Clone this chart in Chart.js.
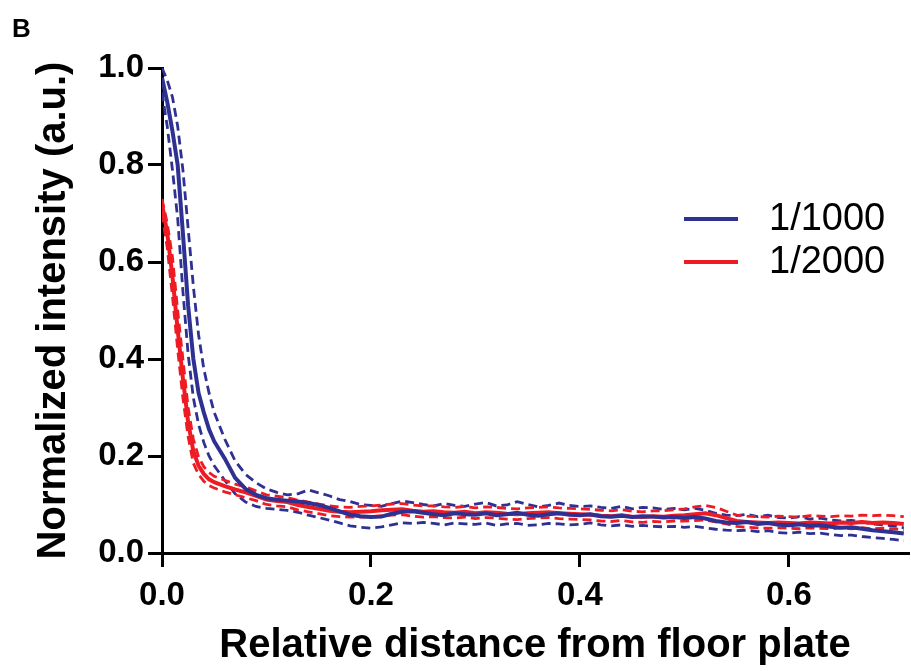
<!DOCTYPE html>
<html>
<head>
<meta charset="utf-8">
<script src="https://cdn.jsdelivr.net/npm/chart.js@4.4.1/dist/chart.umd.min.js"></script>
<style>
  html, body { margin: 0; padding: 0; background: #fff; }
  #wrap { position: relative; width: 911px; height: 671px; }
  canvas { display: block; }
</style>
</head>
<body>
<div id="wrap"><canvas id="c" width="911" height="671"></canvas></div>
<script>
// ---- data ----
const distance = [
  0, 0.005, 0.01, 0.015, 0.02, 0.025, 0.03, 0.035, 0.04, 0.045, 0.05,
  0.06, 0.07, 0.08, 0.09, 0.10, 0.11, 0.12, 0.13, 0.14, 0.15,
  0.16, 0.17, 0.18, 0.19, 0.20, 0.21, 0.22, 0.23, 0.24, 0.25,
  0.26, 0.27, 0.28, 0.29, 0.30, 0.31, 0.32, 0.33, 0.34, 0.35,
  0.36, 0.37, 0.38, 0.39, 0.40, 0.41, 0.42, 0.43, 0.44, 0.45,
  0.46, 0.47, 0.48, 0.49, 0.50, 0.51, 0.52, 0.53, 0.54, 0.55,
  0.56, 0.57, 0.58, 0.59, 0.60, 0.61, 0.62, 0.63, 0.64, 0.65,
  0.66, 0.67, 0.68, 0.69, 0.70, 0.71
];
const mean1000 = [
  0.98, 0.93, 0.87, 0.80, 0.66, 0.51, 0.40, 0.33, 0.29, 0.255, 0.23,
  0.195, 0.155, 0.132, 0.12, 0.113, 0.11, 0.108, 0.106, 0.103, 0.099,
  0.093, 0.086, 0.079, 0.076, 0.074, 0.075, 0.081, 0.085, 0.086, 0.083,
  0.080, 0.078, 0.082, 0.080, 0.079, 0.082, 0.078, 0.080, 0.083, 0.079,
  0.077, 0.080, 0.082, 0.079, 0.078, 0.080, 0.076, 0.075, 0.077, 0.074,
  0.076, 0.075, 0.073, 0.074, 0.072, 0.074, 0.071, 0.066, 0.063, 0.062,
  0.064, 0.060, 0.062, 0.058, 0.057, 0.059, 0.056, 0.057, 0.054, 0.052,
  0.053, 0.050, 0.047, 0.045, 0.043, 0.040
];
const upper1000 = [
  1.00, 0.975, 0.94, 0.88, 0.79, 0.67, 0.55, 0.45, 0.38, 0.33, 0.29,
  0.235, 0.19, 0.162, 0.145, 0.132, 0.125, 0.12, 0.122, 0.13, 0.124,
  0.118, 0.11, 0.106, 0.10, 0.098, 0.096, 0.102, 0.107, 0.104, 0.100,
  0.097, 0.102, 0.098, 0.096, 0.101, 0.104, 0.097, 0.099, 0.106, 0.100,
  0.095, 0.098, 0.103, 0.098, 0.096, 0.097, 0.094, 0.092, 0.096, 0.091,
  0.094, 0.093, 0.090, 0.092, 0.089, 0.092, 0.088, 0.082, 0.078, 0.077,
  0.080, 0.075, 0.078, 0.073, 0.072, 0.075, 0.070, 0.072, 0.068, 0.066,
  0.067, 0.064, 0.060, 0.058, 0.056, 0.052
];
const lower1000 = [
  0.95, 0.88, 0.79, 0.69, 0.54, 0.41, 0.32, 0.265, 0.228, 0.20, 0.18,
  0.15, 0.122, 0.105, 0.096, 0.092, 0.09, 0.088, 0.084, 0.078, 0.073,
  0.068, 0.062, 0.056, 0.053, 0.051, 0.054, 0.058, 0.062, 0.061, 0.063,
  0.061, 0.058, 0.062, 0.060, 0.059, 0.062, 0.057, 0.060, 0.061, 0.057,
  0.058, 0.061, 0.060, 0.058, 0.059, 0.062, 0.058, 0.056, 0.058, 0.055,
  0.057, 0.055, 0.054, 0.055, 0.053, 0.055, 0.052, 0.049, 0.047, 0.046,
  0.047, 0.044, 0.046, 0.042, 0.041, 0.043, 0.040, 0.041, 0.038, 0.036,
  0.037, 0.034, 0.032, 0.030, 0.028, 0.025
];
const mean2000 = [
  0.72, 0.66, 0.57, 0.46, 0.36, 0.27, 0.21, 0.18, 0.163, 0.152, 0.146,
  0.138, 0.131, 0.125, 0.118, 0.11, 0.107, 0.105, 0.099, 0.095, 0.091,
  0.087, 0.085, 0.084, 0.085, 0.086, 0.088, 0.089, 0.090, 0.087, 0.085,
  0.086, 0.084, 0.083, 0.085, 0.082, 0.084, 0.083, 0.081, 0.080, 0.082,
  0.083, 0.084, 0.082, 0.081, 0.080, 0.079, 0.077, 0.076, 0.078, 0.075,
  0.074, 0.076, 0.075, 0.077, 0.078, 0.080, 0.082, 0.078, 0.072, 0.066,
  0.064, 0.063, 0.062, 0.063, 0.062, 0.061, 0.063, 0.062, 0.061, 0.063,
  0.062, 0.064, 0.062, 0.063, 0.062, 0.060
];
const upper2000 = [
  0.73, 0.68, 0.61, 0.50, 0.40, 0.30, 0.235, 0.198, 0.178, 0.166, 0.158,
  0.150, 0.142, 0.136, 0.128, 0.12, 0.117, 0.114, 0.109, 0.105, 0.101,
  0.097, 0.095, 0.094, 0.096, 0.097, 0.099, 0.101, 0.102, 0.099, 0.097,
  0.097, 0.095, 0.094, 0.096, 0.093, 0.095, 0.094, 0.092, 0.091, 0.093,
  0.094, 0.095, 0.093, 0.092, 0.091, 0.090, 0.088, 0.087, 0.089, 0.086,
  0.085, 0.087, 0.087, 0.089, 0.091, 0.095, 0.098, 0.094, 0.086, 0.078,
  0.076, 0.075, 0.074, 0.076, 0.075, 0.074, 0.077, 0.076, 0.075, 0.077,
  0.076, 0.078, 0.077, 0.078, 0.077, 0.075
];
const lower2000 = [
  0.70, 0.63, 0.53, 0.42, 0.32, 0.24, 0.185, 0.162, 0.148, 0.139, 0.134,
  0.126, 0.12, 0.114, 0.108, 0.10, 0.097, 0.095, 0.089, 0.085, 0.081,
  0.077, 0.075, 0.074, 0.074, 0.075, 0.077, 0.078, 0.079, 0.076, 0.074,
  0.075, 0.073, 0.072, 0.074, 0.071, 0.073, 0.072, 0.070, 0.069, 0.071,
  0.072, 0.073, 0.071, 0.070, 0.069, 0.068, 0.066, 0.065, 0.067, 0.064,
  0.063, 0.065, 0.064, 0.066, 0.066, 0.067, 0.068, 0.064, 0.060, 0.055,
  0.053, 0.052, 0.051, 0.052, 0.051, 0.050, 0.052, 0.051, 0.050, 0.052,
  0.050, 0.052, 0.050, 0.051, 0.050, 0.048
];
const seriesLabels = ['1/1000', '1/2000'];
const xTicks = [0, 0.2, 0.4, 0.6];
const yTicks = [0, 0.2, 0.4, 0.6, 0.8, 1.0];
const xTitle = 'Relative distance from floor plate';
const yTitle = 'Normalized intensity (a.u.)';
const panelLetter = 'B';

// ---- styling ----
const BLUE = 'rgb(46,49,146)';
const RED = 'rgb(237,28,36)';
const FONT = 'Arial, "Liberation Sans", sans-serif';

function pts(ys) { return distance.map((x, i) => ({ x: x, y: ys[i] })); }

function line(data, color, dashed, order) {
  return {
    data: pts(data),
    borderColor: color,
    backgroundColor: color,
    borderWidth: dashed ? 2.8 : 4,
    borderDash: dashed ? [9, 5] : [],
    pointRadius: 0,
    tension: 0,
    fill: false,
    order: order
  };
}

const legendPlugin = {
  id: 'customLegend',
  afterDraw(chart) {
    const ctx = chart.ctx;
    ctx.save();
    // panel letter
    ctx.fillStyle = '#000';
    ctx.font = 'bold 26px ' + FONT;
    ctx.textBaseline = 'alphabetic';
    ctx.textAlign = 'left';
    ctx.fillText(panelLetter, 12, 37);
    // legend entries
    const items = [[seriesLabels[0], BLUE, 219], [seriesLabels[1], RED, 262]];
    items.forEach(([label, color, y]) => {
      ctx.strokeStyle = color;
      ctx.lineWidth = 4;
      ctx.beginPath();
      ctx.moveTo(684, y);
      ctx.lineTo(738, y);
      ctx.stroke();
      ctx.fillStyle = '#000';
      ctx.font = '38px ' + FONT;
      ctx.textBaseline = 'middle';
      ctx.fillText(label, 769, y + 1);
    });
    ctx.restore();
  }
};

new Chart(document.getElementById('c'), {
  type: 'line',
  data: {
    datasets: [
      line(mean1000, BLUE, false, 0),
      line(mean2000, RED, false, 1),
      line(upper2000, RED, true, 2),
      line(lower2000, RED, true, 2),
      line(upper1000, BLUE, true, 3),
      line(lower1000, BLUE, true, 3)
    ]
  },
  options: {
    responsive: false,
    animation: false,
    devicePixelRatio: 1,
    layout: { padding: { top: 68, right: 3, left: 0, bottom: 0 } },
    plugins: { legend: { display: false }, tooltip: { enabled: false } },
    scales: {
      x: {
        type: 'linear',
        min: 0,
        max: 0.714,
        position: 'bottom',
        afterBuildTicks: s => { s.ticks = xTicks.map(v => ({ value: v })); },
        afterFit: s => { s.height = 118; },
        grid: { drawOnChartArea: false, drawTicks: true, tickLength: 14, lineWidth: 3, tickWidth: 3, tickColor: '#000', color: '#000' },
        border: { display: true, color: '#000', width: 3 },
        ticks: {
          color: '#000',
          font: { family: FONT, size: 33, weight: 'bold' },
          padding: 9,
          maxRotation: 0,
          autoSkip: false,
          callback: v => Number(v).toFixed(1)
        },
        title: {
          display: true,
          text: xTitle,
          color: '#000',
          font: { family: FONT, size: 40, weight: 'bold' },
          padding: { top: 0, bottom: 1 }
        }
      },
      y: {
        type: 'linear',
        min: 0,
        max: 1.0,
        afterBuildTicks: s => { s.ticks = yTicks.map(v => ({ value: v })); },
        afterFit: s => { s.width = 162; },
        grid: { drawOnChartArea: false, drawTicks: true, tickLength: 14, lineWidth: 3, tickWidth: 3, tickColor: '#000', color: '#000' },
        border: { display: true, color: '#000', width: 3 },
        ticks: {
          color: '#000',
          font: { family: FONT, size: 33, weight: 'bold' },
          padding: 4,
          autoSkip: false,
          callback: v => Number(v).toFixed(1)
        },
        title: {
          display: true,
          text: yTitle,
          color: '#000',
          font: { family: FONT, size: 40, weight: 'bold' },
          padding: { top: 30, bottom: 0 }
        }
      }
    }
  },
  plugins: [legendPlugin]
});
</script>
</body>
</html>
